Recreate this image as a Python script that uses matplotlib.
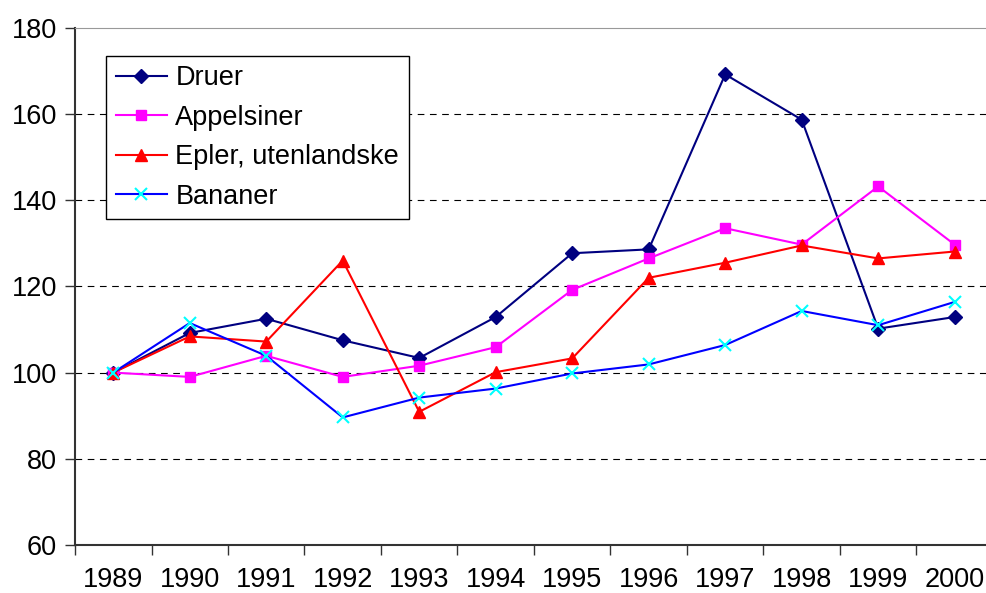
import numpy as np
import matplotlib.pyplot as plt

plt.rcParams['font.family'] = ['Liberation Sans', 'DejaVu Sans']

years = ['1989', '1990', '1991', '1992', '1993', '1994', '1995', '1996',
         '1997', '1998', '1999', '2000']
druer = [100, 109.2, 112.5, 107.5, 103.4, 112.9, 127.7, 128.6, 169.2, 158.7, 110.2, 112.9]
appelsiner = [100, 99.0, 103.9, 99.0, 101.6, 105.9, 119.2, 126.5, 133.5, 129.7, 143.2, 129.7]
epler = [100, 108.4, 107.2, 126.0, 90.9, 100.1, 103.3, 122.0, 125.5, 129.5, 126.5, 128.1]
bananer = [100, 111.5, 103.9, 89.6, 94.2, 96.3, 99.8, 101.9, 106.4, 114.3, 111.0, 116.4]

fig = plt.figure(figsize=(9.87, 5.93), dpi=100)
ax = fig.add_axes([0.076, 0.081, 0.930, 0.872])

x = np.arange(len(years))
ax.plot(x, druer, color='#000080', marker='D', markersize=7, linewidth=1.5, label='Druer')
ax.plot(x, appelsiner, color='#FF00FF', marker='s', markersize=7, linewidth=1.5, label='Appelsiner')
ax.plot(x, epler, color='#FF0000', marker='^', markersize=9, linewidth=1.5, label='Epler, utenlandske')
ax.plot(x, bananer, color='#0000FF', marker='x', markersize=9, markeredgewidth=1.5,
        markeredgecolor='#00FFFF', linewidth=1.5, label='Bananer')

ax.set_xlim(-0.5, len(years) - 0.5)
ax.set_ylim(60, 180)
ax.set_yticks(np.arange(60, 181, 20))
ax.set_xticks(x)
ax.set_xticklabels(years)
ax.set_xticks(np.arange(-0.5, len(years), 1), minor=True)
ax.tick_params(axis='x', which='major', length=0, pad=16, labelsize=19.5)
ax.tick_params(axis='x', which='minor', length=7, width=1, color='#333333')
ax.tick_params(axis='y', length=7, width=1, color='#333333', labelsize=19.5, pad=6)

for y in range(80, 180, 20):
    ax.axhline(y, color='black', linestyle=(0, (6, 5)), linewidth=0.8, zorder=0)

ax.spines['right'].set_visible(False)
ax.spines['top'].set_color('#999999')
ax.spines['left'].set_color('#333333')
ax.spines['bottom'].set_color('#333333')
ax.spines['left'].set_linewidth(1.5)
ax.spines['bottom'].set_linewidth(1.5)

leg = ax.legend(loc='upper left', bbox_to_anchor=(0.034, 0.946), fontsize=19.5,
                frameon=True, fancybox=False, framealpha=1, edgecolor='black',
                handlelength=1.9, handletextpad=0.3, labelspacing=0.5, borderpad=0.35,
                borderaxespad=0)
leg.get_frame().set_linewidth(1.0)

plt.savefig('out.png', dpi=100)
